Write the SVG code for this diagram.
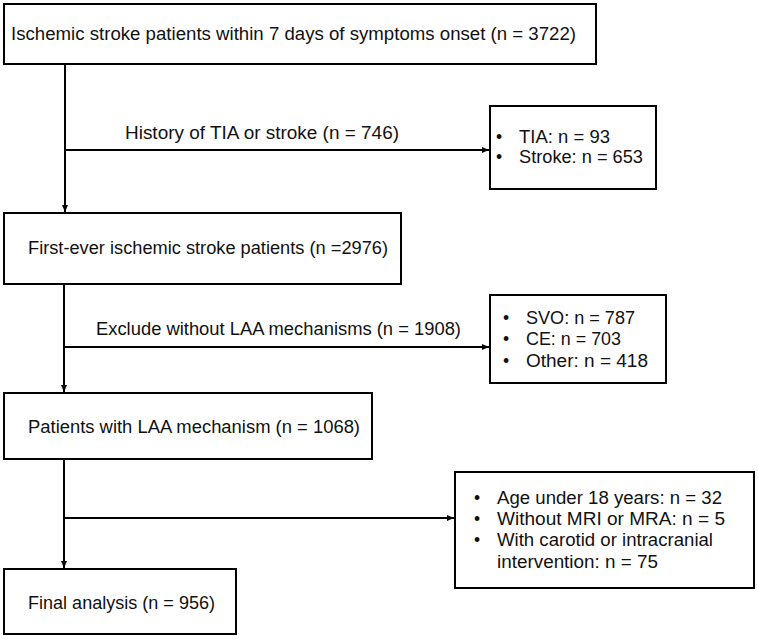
<svg xmlns="http://www.w3.org/2000/svg" width="758" height="639" viewBox="0 0 758 639">
<style>
.box{fill:#fff;stroke:#000;stroke-width:2}
.t{font-family:"Liberation Sans","Noto Sans",sans-serif;font-size:17.5px;fill:#111}
.ln{fill:none;stroke:#000;stroke-width:2}
</style>
<defs>
<marker id="ah" markerUnits="userSpaceOnUse" markerWidth="8" markerHeight="8" refX="7" refY="4" orient="auto">
<path d="M0,1 L7,4 L0,7 Z" fill="#000"/>
</marker>
</defs>
<rect width="758" height="639" fill="#fff"/>
<g id="connectors">
<line class="ln" x1="65" y1="64" x2="65" y2="212" marker-end="url(#ah)"/>
<line class="ln" x1="65" y1="150" x2="489" y2="150" marker-end="url(#ah)"/>
<line class="ln" x1="64" y1="284" x2="64" y2="392" marker-end="url(#ah)"/>
<line class="ln" x1="64" y1="347" x2="489" y2="347" marker-end="url(#ah)"/>
<line class="ln" x1="64" y1="459" x2="64" y2="568" marker-end="url(#ah)"/>
<line class="ln" x1="64" y1="518" x2="454" y2="518" marker-end="url(#ah)"/>
<text class="t" x="125" y="139" textLength="274" lengthAdjust="spacingAndGlyphs">History of TIA or stroke (n = 746)</text>
<text class="t" x="96" y="335" textLength="365" lengthAdjust="spacingAndGlyphs">Exclude without LAA mechanisms (n = 1908)</text>
</g>
<g id="n1">
<rect class="box" x="4" y="4" width="592" height="60"/>
<text class="t" x="11" y="40" textLength="565" lengthAdjust="spacingAndGlyphs">Ischemic stroke patients within 7 days of symptoms onset (n = 3722)</text>
</g>
<g id="e1">
<rect class="box" x="490" y="106" width="166" height="83"/>
<text class="t" x="496" y="143">•</text>
<text class="t" x="519" y="143" textLength="91" lengthAdjust="spacingAndGlyphs">TIA: n = 93</text>
<text class="t" x="496" y="163">•</text>
<text class="t" x="519" y="163" textLength="124" lengthAdjust="spacingAndGlyphs">Stroke: n = 653</text>
</g>
<g id="n2">
<rect class="box" x="4" y="213" width="397" height="71"/>
<text class="t" x="28" y="254" textLength="360" lengthAdjust="spacingAndGlyphs">First-ever ischemic stroke patients (n =2976)</text>
</g>
<g id="e2">
<rect class="box" x="490" y="295" width="176" height="88"/>
<text class="t" x="503" y="324">•</text>
<text class="t" x="526" y="324" textLength="109" lengthAdjust="spacingAndGlyphs">SVO: n = 787</text>
<text class="t" x="503" y="345">•</text>
<text class="t" x="526" y="345" textLength="95" lengthAdjust="spacingAndGlyphs">CE: n = 703</text>
<text class="t" x="503" y="367">•</text>
<text class="t" x="526" y="367" textLength="122" lengthAdjust="spacingAndGlyphs">Other: n = 418</text>
</g>
<g id="n3">
<rect class="box" x="4" y="393" width="368" height="66"/>
<text class="t" x="28" y="433" textLength="332" lengthAdjust="spacingAndGlyphs">Patients with LAA mechanism (n = 1068)</text>
</g>
<g id="e3">
<rect class="box" x="455" y="472" width="299" height="116"/>
<text class="t" x="474" y="504">•</text>
<text class="t" x="497" y="504" textLength="225" lengthAdjust="spacingAndGlyphs">Age under 18 years: n = 32</text>
<text class="t" x="474" y="525">•</text>
<text class="t" x="497" y="525" textLength="228" lengthAdjust="spacingAndGlyphs">Without MRI or MRA: n = 5</text>
<text class="t" x="474" y="546">•</text>
<text class="t" x="497" y="546" textLength="216" lengthAdjust="spacingAndGlyphs">With carotid or intracranial</text>
<text class="t" x="497" y="568" textLength="161" lengthAdjust="spacingAndGlyphs">intervention: n = 75</text>
</g>
<g id="n4">
<rect class="box" x="4" y="569" width="232" height="65"/>
<text class="t" x="28" y="609" textLength="187" lengthAdjust="spacingAndGlyphs">Final analysis (n = 956)</text>
</g>
</svg>
